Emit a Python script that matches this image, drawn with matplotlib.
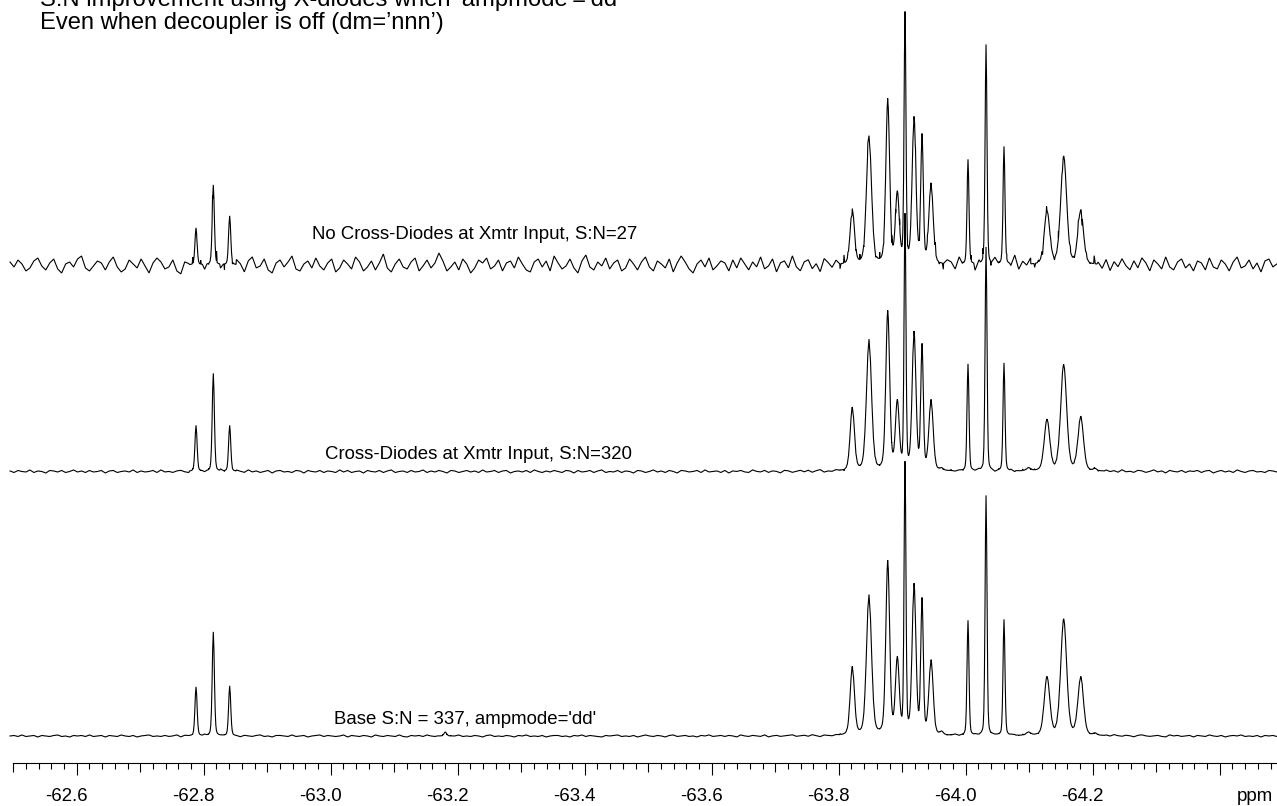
import numpy as np
import matplotlib
matplotlib.use("Agg")
import matplotlib.pyplot as plt
from matplotlib.transforms import ScaledTranslation

plt.rcParams['font.family'] = ['Liberation Sans', 'DejaVu Sans']
plt.rcParams['axes.unicode_minus'] = False

# ---------------- data ----------------
title_lines = ["S:N improvement using X-diodes when 'ampmode'='dd'",
               "Even when decoupler is off (dm=\u2019nnn\u2019)"]
trace_labels = ["No Cross-Diodes at Xmtr Input, S:N=27",
                "Cross-Diodes at Xmtr Input, S:N=320",
                "Base S:N = 337, ampmode='dd'"]

# peak positions (ppm) and line widths (ppm, FWHM)
peak_ppm = [-62.7879, -62.8151, -62.8409, -63.1805,
            -63.8214, -63.8477, -63.8772, -63.8923, -63.9044, -63.9186, -63.9312, -63.9454,
            -63.9622, -64.0036, -64.0320, -64.0603, -64.0989,
            -64.1280, -64.1543, -64.1811, -64.2036]
peak_fwhm = [0.0040, 0.0040, 0.0040, 0.0050,
             0.0079, 0.0094, 0.0071, 0.0071, 0.0035, 0.0071, 0.0047, 0.0079,
             0.0060, 0.0036, 0.0035, 0.0036, 0.0080,
             0.0102, 0.0110, 0.0102, 0.0060]
lorentz_fraction = 0.28
# peak intensities for each spectrum
top_heights = [37, 80, 49, 0,
               55, 128, 162, 69, 248, 145, 126, 80,
               0, 105, 220, 118, 0,
               53, 108, 54, 0]
mid_heights = [46, 98, 46, 0,
               63, 131, 158, 67, 253, 137, 123, 70,
               2, 107, 224, 108, 3,
               51, 106, 54, 2]
bot_heights = [49, 104, 50, 4,
               68, 140, 172, 74, 269, 149, 133, 74,
               3, 115, 240, 116, 3,
               58, 116, 58, 2]

# baseline noise (intensity units)
top_noise = [3, -2, 5, 1, -6, -3, 4, 7, -1, -5, 2, 6, -4, -8, 1, 3, -2, 6, 9, -3,
             -6, -1, 4, 2, -5, 3, 8, -2, -7, -4, 5, 1, -3, 6, -1, -8, 2, 7, 3, -4,
             -2, 5, -6, -9, 3, 1, 6, -2, 4, -5, -1, 7, 10, -4, -6, 2, -3, 5, 1, -7,
             4, 8, -3, -1, 6, -5, -8, 2, 5, -2, 3, 9, -4, -6, 1, 4, -3, 7, -1, -5,
             2, 6, -7, -3, 5, 1, -4, 8, 3, -6, -2, 4, -5, 2, 11, -3, -7, 1, 6, -2,
             -4, 3, 7, -6, -1, 5, -3, 2, 12, 4, -6, -2, 3, -5, 6, 1, -8, -3, 5, 2,
             7, -4, -1, 5, -6, 2, 4, -3, 8, 1, -5, -7, 3, 6, -2, 4, -6, 9, 2, -4,
             -1, 6, -3, -8, 4, 10, -2, -5, 3, -1, 7, -4, 2, 5, -6, -3, 6, 1, -5, 3,
             8, -2, -6, 4, 1, -3, 6, -7, 2, 9, 3, -4, -8, 1, 5, -2, 7, -5, -1, 4,
             2, -6, 5, -3, 7, 1, -5, 3, -2, 8, -4, -1, 6, -7, 2, 4, -3, 9, -2, -6,
             3, 5, -4, 1, -7, 6, 2, -3, 4, -5, 8, 3, -6, -2, 5, -4, 7, 1, -3, 6,
             -5, 2, -8, 4, 6, -1, -4, 3, 7, -6, 1, 5, -3, 8, -2, -6, 4, 2, -5, 7,
             1, -3, 5, -7, 3, 8, -2, -4, 6, 1, -6, 4, -2, 9, -5, 3, -1, 6, -4, 2,
             -6, 5, 2, -3, 7, -5, 1, 4, -2, 6, -7, 3, -1, 8, 2, -4, 5, -6, 3, -2,
             6, -1, -5, 4, -3, 7, 2, -6, 5, 1, -4, 8, -2, -5, 3, 6, -3, 1, -6, 4,
             2, -5, 7, -2, -4, 5, 1, -6, 3, 8, -3, -1, 5, -4, 2, -7, 4, 6, -2, 1]
mid_noise = [0.5, -1, 1, 0, -0.5, 1.5, -1, 0.5, 0, -1.5, 1, 0.5, -0.5, 1, -1, 0, 1.5, -0.5, 0.5, -1,
             1, -0.5, 0, 1, -1.5, 0.5, 1, -1, 0, 0.5, -0.5, 1.5, -1, 0.5, -0.5, 0, 1, -1, 1.5, -0.5,
             0, -1, 0.5, 1, -0.5, -1.5, 1, 0, 0.5, -1, 1, -0.5, 0, 1.5, -1, 0.5, -0.5, 1, 0, -1,
             1.5, -0.5, 0.5, -1, 0, 1, -1.5, 0.5, 1, -0.5, 0, -1, 1, 0.5, -1.5, 1, 0, -0.5, 1, -1,
             0.5, 0, -1, 1.5, -0.5, 1, -1, 0, 0.5, -1.5, 1, 0, -0.5, 1, -1, 0.5, 1.5, -1, 0, 0.5,
             -1, 1, -0.5, 0, 1.5, -1, 0.5, -0.5, 1, 0, -1.5, 1, 0.5, -1, 0, 1, -0.5, 0.5, -1, 1.5,
             -0.5, 0, 1, -1, 0.5, 1, -1.5, 0, 0.5, -0.5, 1, -1, 1.5, 0, -1, 0.5, -0.5, 1, 0, -1,
             1, 0.5, -1.5, 1, -0.5, 0, 1, -1, 0.5, 1.5, -1, 0, -0.5, 1, -1, 0.5, 0, -1.5, 1, 0.5,
             -1, 0, 1.5, -0.5, 0.5, -1, 1, 0, -1.5, 1, 0.5, -0.5, 0, 1, -1, 1.5, -0.5, 0, 0.5, -1,
             1, -1.5, 0.5, 0, 1, -0.5, -1, 1.5, 0, -0.5, 1, -1, 0.5, 0, -1.5, 1, 0.5, -1, 0, 1,
             -0.5, 1, -1, 0.5, 1.5, -1, 0, -0.5, 1, 0.5, -1.5, 1, 0, -1, 0.5, 1, -0.5, 0, 1.5, -1,
             0, 0.5, -1, 1, -0.5, 0, 1.5, -1, 0.5, -0.5, 1, 0, -1.5, 1, 0.5, -1, 0, 1, -0.5, 0.5,
             -1, 1.5, 0, -0.5, 1, -1, 0.5, 0, -1.5, 1, -0.5, 0.5, 1, -1, 0, 1.5, -0.5, -1, 1, 0,
             0.5, -1, 1, -0.5, 0, 1.5, -1, 0.5, 1, -1.5, 0, 0.5, -0.5, 1, -1, 0, 1, -0.5, 0.5, -1,
             1.5, -0.5, 0, -1, 1, 0.5, -1, 0, 1.5, -0.5, 0.5, -1.5, 1, 0, -0.5, 1, -1, 0.5, 0, 1,
             -1, 0.5, 1, -1.5, 0, 1, -0.5, 0.5, -1, 1.5, 0, -1, 0.5, 1, -0.5, 0, -1, 1, 0.5, -0.5]
bot_noise = [0, 0.5, -0.5, 1, -0.5, 0, 0.5, -1, 0.5, 0, -0.5, 0.5, 1, -0.5, 0, -1, 0.5, 0, 0.5, -0.5,
             1, -0.5, 0, 0.5, -1, 0.5, 0, -0.5, 1, 0, -0.5, 0.5, -1, 0, 0.5, 1, -0.5, 0, -0.5, 0.5,
             -0.5, 0, 1, -1, 0.5, 0, -0.5, 0.5, 0, 1, -0.5, -1, 0.5, 0, 0.5, -0.5, 1, 0, -1, 0.5,
             0, -0.5, 0.5, 1, -0.5, 0, -1, 0.5, 0.5, 0, -0.5, 1, -0.5, 0, 0.5, -1, 0, 0.5, 1, -0.5,
             0.5, 0, -0.5, 0, 1, -1, 0.5, 0, -0.5, 0.5, 0, -1, 1, 0, -0.5, 0.5, 0, -0.5, 1, -0.5,
             -1, 0.5, 0, 0.5, -0.5, 1, 0, -0.5, 0, 0.5, -1, 0.5, 0, 1, -0.5, 0, -0.5, 0.5, 0, -1,
             0.5, 1, -0.5, 0, -0.5, 0.5, 0, -1, 0.5, 0, 1, -0.5, 0, -0.5, 0.5, -1, 0, 0.5, 0.5, -0.5,
             0, -1, 0.5, 0, 1, -0.5, 0.5, 0, -0.5, -1, 0.5, 0, 0.5, 1, -0.5, 0, -0.5, 0.5, -1, 0,
             1, 0, -0.5, 0.5, 0, -1, 0.5, 1, -0.5, 0, 0.5, -0.5, 0, -1, 0.5, 0, 1, -0.5, 0, 0.5,
             -0.5, 0.5, 0, -1, 1, 0, -0.5, 0.5, 0, -0.5, 1, -1, 0, 0.5, -0.5, 0, 0.5, 1, -0.5, 0,
             0.5, -0.5, 1, 0, -1, 0.5, 0, -0.5, 0.5, 1, 0, -0.5, -0.5, 0.5, 0, -1, 1, 0, 0.5, -0.5,
             0, 1, -0.5, -0.5, 0.5, 0, -1, 0.5, 0, 0.5, -0.5, 1, 0, -1, 0.5, 0, -0.5, 0.5, 1, -0.5,
             -1, 0.5, 0, 0.5, -0.5, 0, 1, -0.5, 0, 0.5, -1, 0, 0.5, 0.5, -0.5, 1, 0, -0.5, 0, -1,
             0.5, 0, 1, -0.5, 0, -1, 0.5, 0, 0.5, -0.5, 1, 0, -0.5, -1, 0.5, 0, 0.5, -0.5, 1, 0,
             -0.5, 0.5, 0, -1, 0.5, 1, 0, -0.5, 0, 0.5, -0.5, -1, 1, 0, 0.5, -0.5, 0, 0.5, -1, 0.5,
             0, -0.5, 1, 0, -0.5, 0.5, -1, 0, 0.5, 0, 1, -0.5, 0, -0.5, 0.5, -1, 0.5, 0, 0.5, -0.5]

major_ticks = [-62.6, -62.8, -63.0, -63.2, -63.4, -63.6, -63.8, -64.0, -64.2, -64.4]
major_labels = ["-62.6", "-62.8", "-63.0", "-63.2", "-63.4", "-63.6", "-63.8", "-64.0", "-64.2", ""]
mid_ticks = [-62.5, -62.7, -62.9, -63.1, -63.3, -63.5, -63.7, -63.9, -64.1, -64.3]
unit_label = "ppm"

# ---------------- layout ----------------
W, H, DPI = 1277, 806, 100
fig = plt.figure(figsize=(W / DPI, H / DPI), dpi=DPI)
ax = fig.add_axes([0, 0, 1, 1])
ax.set_xlim(-62.4792, -64.4902)
ax.set_ylim(0, H)
ax.patch.set_visible(False)
for s in ("top", "left", "right"):
    ax.spines[s].set_visible(False)
axis_y = H - 762.7
ax.spines["bottom"].set_position(("data", axis_y))
ax.spines["bottom"].set_bounds(-62.5, -64.4902)
ax.spines["bottom"].set_linewidth(0.8)
ax.set_yticks([])

px = 72.0 / DPI  # points per pixel
all_major = sorted(major_ticks + mid_ticks, reverse=True)
ax.set_xticks(all_major)
lab_map = dict(zip(major_ticks, major_labels))
ax.set_xticklabels([lab_map.get(t, "") for t in all_major], fontsize=13.4)
ax.set_xticks(np.round(np.arange(-62.50, -64.4801, -0.02), 2), minor=True)
ax.tick_params(axis="x", which="major", direction="out", length=12 * px, width=0.8,
               pad=13.6 * px, colors="black")
ax.tick_params(axis="x", which="minor", direction="out", length=5.5 * px, width=0.8)
for t, tick in zip(all_major, ax.xaxis.get_major_ticks()):
    if t in mid_ticks:
        tick.tick1line.set_markersize(8.5 * px)
offset = ScaledTranslation(-10.7 / DPI, 0, fig.dpi_scale_trans)
for lbl in ax.get_xticklabels():
    lbl.set_transform(lbl.get_transform() + offset)
ax.text(-64.4551, axis_y - 25.6, unit_label, fontsize=13.4, ha="center", va="top")


def spectrum(heights, noise, base):
    pos = np.array(peak_ppm)
    fw = np.array(peak_fwhm)
    h = np.array(heights, dtype=float)
    xr = np.linspace(-62.495, -64.49, len(noise))
    nr = np.array(noise, dtype=float)
    extra = []
    for p, w, hh in zip(pos, fw, h):
        if hh > 0:
            extra.append(p + w * np.arange(-10, 11) / 4.0)
    xe = np.concatenate(extra)
    x = np.concatenate([xr, xe])
    n = np.concatenate([nr, np.zeros_like(xe)])
    order = np.argsort(-x)
    x, n = x[order], n[order]
    y = np.zeros_like(x)
    eta = lorentz_fraction
    for p, w, hh in zip(pos, fw, h):
        u = (x - p) / (w / 2.0)
        y += hh * (eta / (1.0 + u ** 2) + (1 - eta) * np.exp(-np.log(2) * u ** 2))
    return x, base + y + n


bases = [H - 265, H - 471.5, H - 736]
for heights, noise, base in zip([top_heights, mid_heights, bot_heights],
                                [top_noise, mid_noise, bot_noise], bases):
    x, y = spectrum(heights, noise, base)
    ax.plot(x, y, color="black", lw=0.8, solid_joinstyle="miter")

label_pos = [(-63.2273, H - 239), (-63.232, H - 459), (-63.2116, H - 724)]
for txt, (lx, ly) in zip(trace_labels, label_pos):
    ax.text(lx, ly, txt, fontsize=13.4, ha="center", va="baseline")

fig.text(40 / W, 1 - 6 / H, title_lines[0], fontsize=17.1, ha="left", va="baseline")
fig.text(40 / W, 1 - 29 / H, title_lines[1], fontsize=17.1, ha="left", va="baseline")

fig.savefig("out.png", dpi=DPI)
